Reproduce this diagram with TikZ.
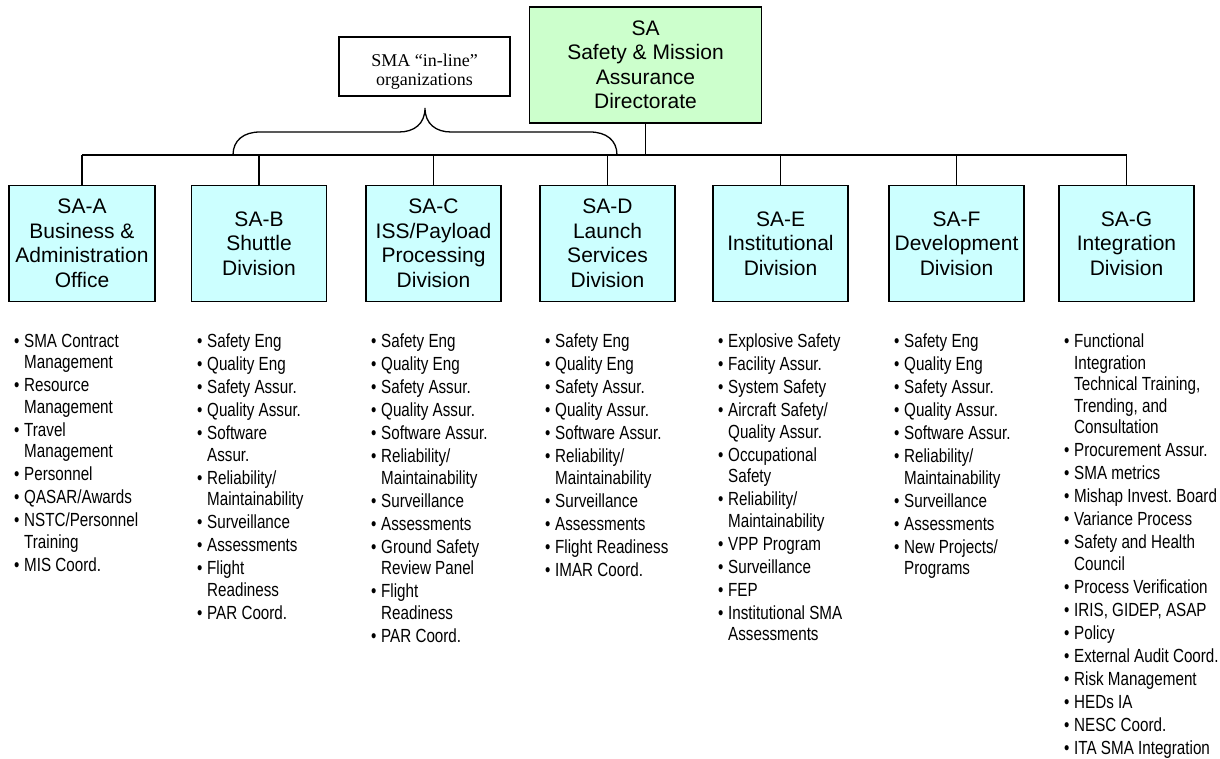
\documentclass[tikz,border=0pt]{standalone}
\usepackage{fontspec}
\setmainfont{Liberation Sans}
\newfontfamily\narrowfont[FakeStretch=0.80]{Liberation Sans}
\newfontfamily\timesfont{Liberation Serif}
\usetikzlibrary{positioning}
\definecolor{divcyan}{HTML}{CCFFFF}
\definecolor{dirgreen}{HTML}{CCFFCC}
\frenchspacing

% bullet line, continuation line, gap between items
\newcommand{\bitem}[1]{\makebox[10pt][l]{\textbullet}#1}
\newcommand{\bcont}[1]{\hspace*{10pt}#1}
\newcommand{\nxt}{\\[1.5pt]}
\newcommand{\lowr}[1]{\raisebox{-5pt}[\height][\depth]{#1}}

\begin{document}
\begin{tikzpicture}[x=1pt, y=-1pt,
  link/.style={line width=1.6pt},
  dirbox/.style={draw, line width=1.6pt, fill=dirgreen, inner sep=0pt,
    minimum width=232pt, minimum height=116pt, align=center,
    font=\fontsize{21}{24.5}\selectfont},
  divbox/.style={draw, line width=1.6pt, fill=divcyan, inner sep=0pt,
    minimum width=135pt, minimum height=116pt, align=center,
    font=\fontsize{21}{24.5}\selectfont},
  notebox/.style={draw, line width=1.4pt, inner sep=0pt,
    minimum width=171pt, minimum height=59pt, align=center,
    font=\timesfont\fontsize{18}{19}\selectfont},
  duties/.style={anchor=north west, align=left, inner sep=0pt,
    font=\narrowfont\fontsize{19}{21.5}\selectfont}]

\useasboundingbox (0,0) rectangle (1220,759);

% Directorate
\node[dirbox] (SA) at (645.5,65)
  {SA\\Safety \& Mission\\Assurance\\Directorate};

% Callout and brace
\node[notebox] (inline) at (424.5,66.5)
  {\lowr{SMA “in-line”}\\\lowr{organizations}};
\draw[link, line width=1.3pt] (233,155) .. controls (233,140) and (244,132) .. (260,132)
  -- (399,132) .. controls (414,132) and (425,124) .. (425,108)
  .. controls (425,124) and (436,132) .. (451,132)
  -- (590,132) .. controls (606,132) and (617,140) .. (617,155);

% ================================================================
% Divisions
% ================================================================
\node[divbox, minimum width=146pt] (divA) at (82,243.5)
  {SA-A\\Business \&\\Administration\\Office};
\node[divbox] (divB) at (259,243.5) {SA-B\\Shuttle\\Division};
\node[divbox] (divC) at (433.5,243.5) {SA-C\\ISS/Payload\\Processing\\Division};
\node[divbox] (divD) at (607.5,243.5) {SA-D\\Launch\\Services\\Division};
\node[divbox] (divE) at (780.5,243.5) {SA-E\\Institutional\\Division};
\node[divbox] (divF) at (956.5,243.5) {SA-F\\Development\\Division};
\node[divbox] (divG) at (1126.5,243.5) {SA-G\\Integration\\Division};

% Connectors
\coordinate (bus) at (0,155);
\draw[link] (SA.south) -- (SA.south |- bus);
\draw[link] (divA.north |- bus) -- (divG.north |- bus);
\foreach \d in {divA,divB,divC,divD,divE,divF,divG}
  \draw[link] (\d.north) -- (\d.north |- bus);

% ================================================================
% Duties under each division
% ================================================================
\node[duties] (dutA) at (14,334) {%
  \bitem{SMA Contract}\\ \bcont{Management}\nxt
  \bitem{Resource}\\ \bcont{Management}\nxt
  \bitem{Travel}\\ \bcont{Management}\nxt
  \bitem{Personnel}\nxt
  \bitem{QASAR/Awards}\nxt
  \bitem{NSTC/Personnel}\\ \bcont{Training}\nxt
  \bitem{MIS Coord.}};

\node[duties] (dutB) at (197,334) {%
  \bitem{Safety Eng}\nxt
  \bitem{Quality Eng}\nxt
  \bitem{Safety Assur.}\nxt
  \bitem{Quality Assur.}\nxt
  \bitem{Software}\\ \bcont{Assur.}\nxt
  \bitem{Reliability/}\\ \bcont{Maintainability}\nxt
  \bitem{Surveillance}\nxt
  \bitem{Assessments}\nxt
  \bitem{Flight}\\ \bcont{Readiness}\nxt
  \bitem{PAR Coord.}};

\node[duties] (dutC) at (371,334) {%
  \bitem{Safety Eng}\nxt
  \bitem{Quality Eng}\nxt
  \bitem{Safety Assur.}\nxt
  \bitem{Quality Assur.}\nxt
  \bitem{Software Assur.}\nxt
  \bitem{Reliability/}\\ \bcont{Maintainability}\nxt
  \bitem{Surveillance}\nxt
  \bitem{Assessments}\nxt
  \bitem{Ground Safety}\\ \bcont{Review Panel}\nxt
  \bitem{Flight}\\ \bcont{Readiness}\nxt
  \bitem{PAR Coord.}};

\node[duties] (dutD) at (545,334) {%
  \bitem{Safety Eng}\nxt
  \bitem{Quality Eng}\nxt
  \bitem{Safety Assur.}\nxt
  \bitem{Quality Assur.}\nxt
  \bitem{Software Assur.}\nxt
  \bitem{Reliability/}\\ \bcont{Maintainability}\nxt
  \bitem{Surveillance}\nxt
  \bitem{Assessments}\nxt
  \bitem{Flight Readiness}\nxt
  \bitem{IMAR Coord.}};

\node[duties] (dutE) at (718,334) {%
  \bitem{Explosive Safety}\nxt
  \bitem{Facility Assur.}\nxt
  \bitem{System Safety}\nxt
  \bitem{Aircraft Safety/}\\ \bcont{Quality Assur.}\nxt
  \bitem{Occupational}\\ \bcont{Safety}\nxt
  \bitem{Reliability/}\\ \bcont{Maintainability}\nxt
  \bitem{VPP Program}\nxt
  \bitem{Surveillance}\nxt
  \bitem{FEP}\nxt
  \bitem{Institutional SMA}\\ \bcont{Assessments}};

\node[duties] (dutF) at (894,334) {%
  \bitem{Safety Eng}\nxt
  \bitem{Quality Eng}\nxt
  \bitem{Safety Assur.}\nxt
  \bitem{Quality Assur.}\nxt
  \bitem{Software Assur.}\nxt
  \bitem{Reliability/}\\ \bcont{Maintainability}\nxt
  \bitem{Surveillance}\nxt
  \bitem{Assessments}\nxt
  \bitem{New Projects/}\\ \bcont{Programs}};

\node[duties] (dutG) at (1064,334) {%
  \bitem{Functional}\\ \bcont{Integration}\\ \bcont{Technical Training,}\\
  \bcont{Trending, and}\\ \bcont{Consultation}\nxt
  \bitem{Procurement Assur.}\nxt
  \bitem{SMA metrics}\nxt
  \bitem{Mishap Invest. Board}\nxt
  \bitem{Variance Process}\nxt
  \bitem{Safety and Health}\\ \bcont{Council}\nxt
  \bitem{Process Verification}\nxt
  \bitem{IRIS, GIDEP, ASAP}\nxt
  \bitem{Policy}\nxt
  \bitem{External Audit Coord.}\nxt
  \bitem{Risk Management}\nxt
  \bitem{HEDs IA}\nxt
  \bitem{NESC Coord.}\nxt
  \bitem{ITA SMA Integration}};

\end{tikzpicture}
\end{document}
